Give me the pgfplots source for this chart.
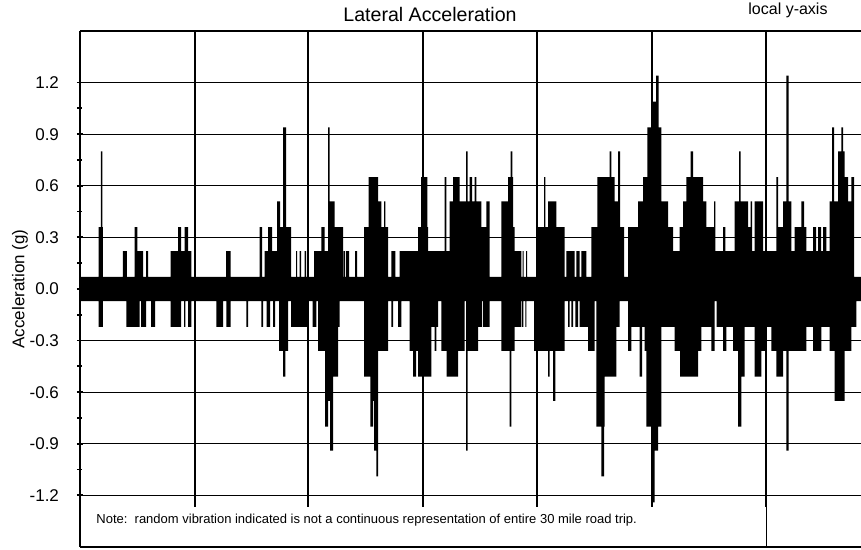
\documentclass[border=0pt]{standalone}
\usepackage{fontspec}
\setmainfont{Liberation Sans}
\usepackage{pgfplots}
\usepackage{pgfplotstable}
\pgfplotsset{compat=1.18}

% upper envelope of the trace (value holds until next x)
\pgfplotstableread{
x y
0 0.07
18.7 0.36
21 0.80
22.5 0.36
23 0.07
43 0.22
47 0.07
54.7 0.36
57.3 0.22
63 0.07
66 0.22
68 0.07
90.7 0.22
98 0.36
101 0.22
104.7 0.36
108 0.22
111.3 0.07
146 0.22
150.7 0.07
179.7 0.36
182 0.07
184.7 0.22
188 0.36
192 0.22
197 0.51
200 0.36
203 0.94
206 0.36
211 0.07
216 0.22
217 0.07
219.7 0.22
221 0.07
224.7 0.22
226 0.07
234 0.22
241.3 0.36
244.7 0.22
248 0.94
249.7 0.51
254.7 0.36
263 0.07
263.5 0.22
265 0.07
266 0.22
269 0.07
275 0.22
277 0.07
284 0.36
288.7 0.65
298 0.51
301.3 0.36
304 0.51
305.3 0.36
308 0.07
311.3 0.22
315.3 0.07
319.7 0.22
338 0.36
341 0.65
347.3 0.36
348 0.22
364.7 0.65
366.3 0.22
369.7 0.51
373 0.65
379.7 0.51
386 0.80
387.7 0.51
389.7 0.65
392 0.51
394.7 0.65
396.3 0.51
401.3 0.36
406.3 0.51
409.7 0.07
421.3 0.51
428 0.65
430.7 0.80
432.3 0.65
433 0.36
434.7 0.22
441.3 0.07
442.7 0.22
443.7 0.07
446 0.22
447 0.07
456.3 0.36
464 0.65
465.3 0.36
468 0.51
476.3 0.36
484.7 0.07
486.3 0.22
494.7 0.07
496.3 0.22
499.7 0.07
501.3 0.22
506.3 0.07
511.3 0.36
517.3 0.65
529.7 0.80
531.3 0.65
534.7 0.51
538 0.80
540 0.36
544 0.07
548 0.36
558 0.51
563 0.65
567.3 0.94
571.3 1.09
576 1.24
578.7 0.94
581.3 0.51
588 0.36
593 0.22
599.7 0.36
603 0.51
606.3 0.65
610.7 0.80
613 0.65
623 0.51
626.3 0.36
634 0.51
635.3 0.22
643 0.36
645.3 0.22
654.7 0.51
659 0.80
660.7 0.51
668 0.36
670.7 0.51
672 0.22
674.7 0.51
683 0.22
696.3 0.65
698 0.36
703 0.51
706.3 1.24
708.7 0.51
711.3 0.22
714.7 0.36
721.3 0.51
724 0.36
726.3 0.22
733 0.36
736 0.22
738 0.36
741 0.22
743 0.36
746.3 0.22
749.7 0.51
752 0.94
754 0.51
758 0.80
761.3 0.94
763 0.80
764.7 0.65
768 0.51
771.3 0.65
774 0.07
781 0.07
}\uptrace

% lower envelope of the trace
\pgfplotstableread{
x y
0 -0.07
18.7 -0.22
23 -0.07
46.3 -0.22
59.7 -0.07
61 -0.22
66 -0.07
71 -0.22
75 -0.07
90.7 -0.22
101 -0.07
104 -0.22
105.3 -0.07
108 -0.22
111.3 -0.07
136.3 -0.22
143 -0.07
146.3 -0.22
150.7 -0.07
166.3 -0.22
168 -0.07
181.3 -0.22
183 -0.07
186.7 -0.22
190 -0.07
193 -0.22
195 -0.07
199 -0.36
203 -0.51
205.3 -0.36
208 -0.07
211 -0.22
228 -0.07
232.7 -0.22
236.3 -0.07
238 -0.36
245 -0.80
248 -0.65
250 -0.94
253 -0.51
258 -0.22
259.7 -0.07
284 -0.51
290.3 -0.80
293 -0.65
294 -0.94
296.3 -1.09
298 -0.36
308 -0.07
311.3 -0.22
313 -0.07
318 -0.22
321.3 -0.07
329.7 -0.36
333 -0.51
336 -0.36
338 -0.51
351.3 -0.22
354.7 -0.36
356.3 -0.22
358 -0.07
361.3 -0.36
366.7 -0.51
378 -0.36
384.7 -0.07
386 -0.94
387.5 -0.36
398 -0.22
402 -0.07
403 -0.22
409.7 -0.07
421.3 -0.36
429.7 -0.80
431.3 -0.36
434.7 -0.22
441.3 -0.07
442 -0.22
443.3 -0.07
445.3 -0.22
446.3 -0.07
454 -0.36
468 -0.51
469.7 -0.36
473 -0.65
475.3 -0.36
484.7 -0.07
488 -0.22
489.7 -0.07
491.3 -0.22
493 -0.07
495.3 -0.22
498 -0.07
499.7 -0.22
508 -0.36
514.7 -0.07
516.3 -0.80
521.3 -1.09
524 -0.80
524.7 -0.51
536.3 -0.22
539.7 -0.07
548 -0.36
551.3 -0.22
559.7 -0.51
562 -0.22
564.7 -0.36
566.3 -0.80
573 -1.24
574.7 -0.94
578 -0.80
581.3 -0.22
594.7 -0.36
600 -0.51
618 -0.36
621.3 -0.22
631.3 -0.36
634.7 -0.07
636.7 -0.22
643 -0.36
646.3 -0.22
653 -0.36
658 -0.80
661.3 -0.51
664.7 -0.22
674.7 -0.51
681.3 -0.36
686.3 -0.22
691.3 -0.36
696.3 -0.51
703 -0.36
706.3 -0.94
708.7 -0.36
726.3 -0.22
733 -0.36
741.3 -0.22
749.7 -0.36
754.7 -0.65
764.7 -0.36
771.3 -0.22
776.3 -0.07
781 -0.07
}\lowtrace

\begin{document}
\begin{tikzpicture}
\begin{axis}[
    scale only axis,
    width=390.5pt, height=258pt,
    xmin=0, xmax=781,
    ymin=-1.5, ymax=1.5,
    axis x line=box,
    axis y line=left,
    axis line style={-, black, line width=1.2pt},
    xtick={115,228,343,457,572,686},
    xticklabels={},
    xtick pos=left,
    x tick style={black, line width=0.6pt},
    xtick align=inside,
    minor x tick num=1,
    ytick={-1.2,-0.9,...,1.21},
    minor y tick num=1,
    ytick align=center,
    y tick style={black, line width=0.9pt},
    major tick length=3pt,
    minor tick length=2.5pt,
    grid=major,
    grid style={black, line width=0.6pt},
    yticklabel style={
        /pgf/number format/fixed,
        /pgf/number format/fixed zerofill,
        /pgf/number format/precision=1,
        /pgf/number format/assume math mode=true,
        font=\fontsize{8.5}{10}\selectfont,
        xshift=-5.5pt},
    ylabel={Acceleration (g)},
    ylabel style={at={(axis description cs:-0.077,0.5)}, anchor=center,
        font=\fontsize{8.5}{10}\selectfont},
    clip=false,
]
\addplot[fill=black, draw=none, const plot] table[x=x, y=y] {\uptrace} \closedcycle;
\addplot[fill=black, draw=none, const plot] table[x=x, y=y] {\lowtrace} \closedcycle;

% white note area hides the grid below -1.27
\fill[white] (axis cs:1.5,-1.492) rectangle (axis cs:685.5,-1.27);

\node[anchor=west, font=\fontsize{6.5}{8}\selectfont, inner sep=0pt]
    at (axis cs:16,-1.343)
    {Note:\ \ random vibration indicated is not a continuous representation of entire 30 mile road trip.};
\node[font=\fontsize{9.8}{12}\selectfont, inner sep=0pt]
    at (axis cs:350,1.5) [yshift=8.5pt] {Lateral Acceleration};
\node[font=\fontsize{8}{9}\selectfont, inner sep=0pt]
    at (axis cs:708,1.5) [yshift=10.5pt] {local y-axis};
\end{axis}
\pgfresetboundingbox
\path ([xshift=-40pt,yshift=-1.5pt]current axis.south west)
    rectangle ([yshift=15.5pt]current axis.north east);
\end{tikzpicture}
\end{document}
